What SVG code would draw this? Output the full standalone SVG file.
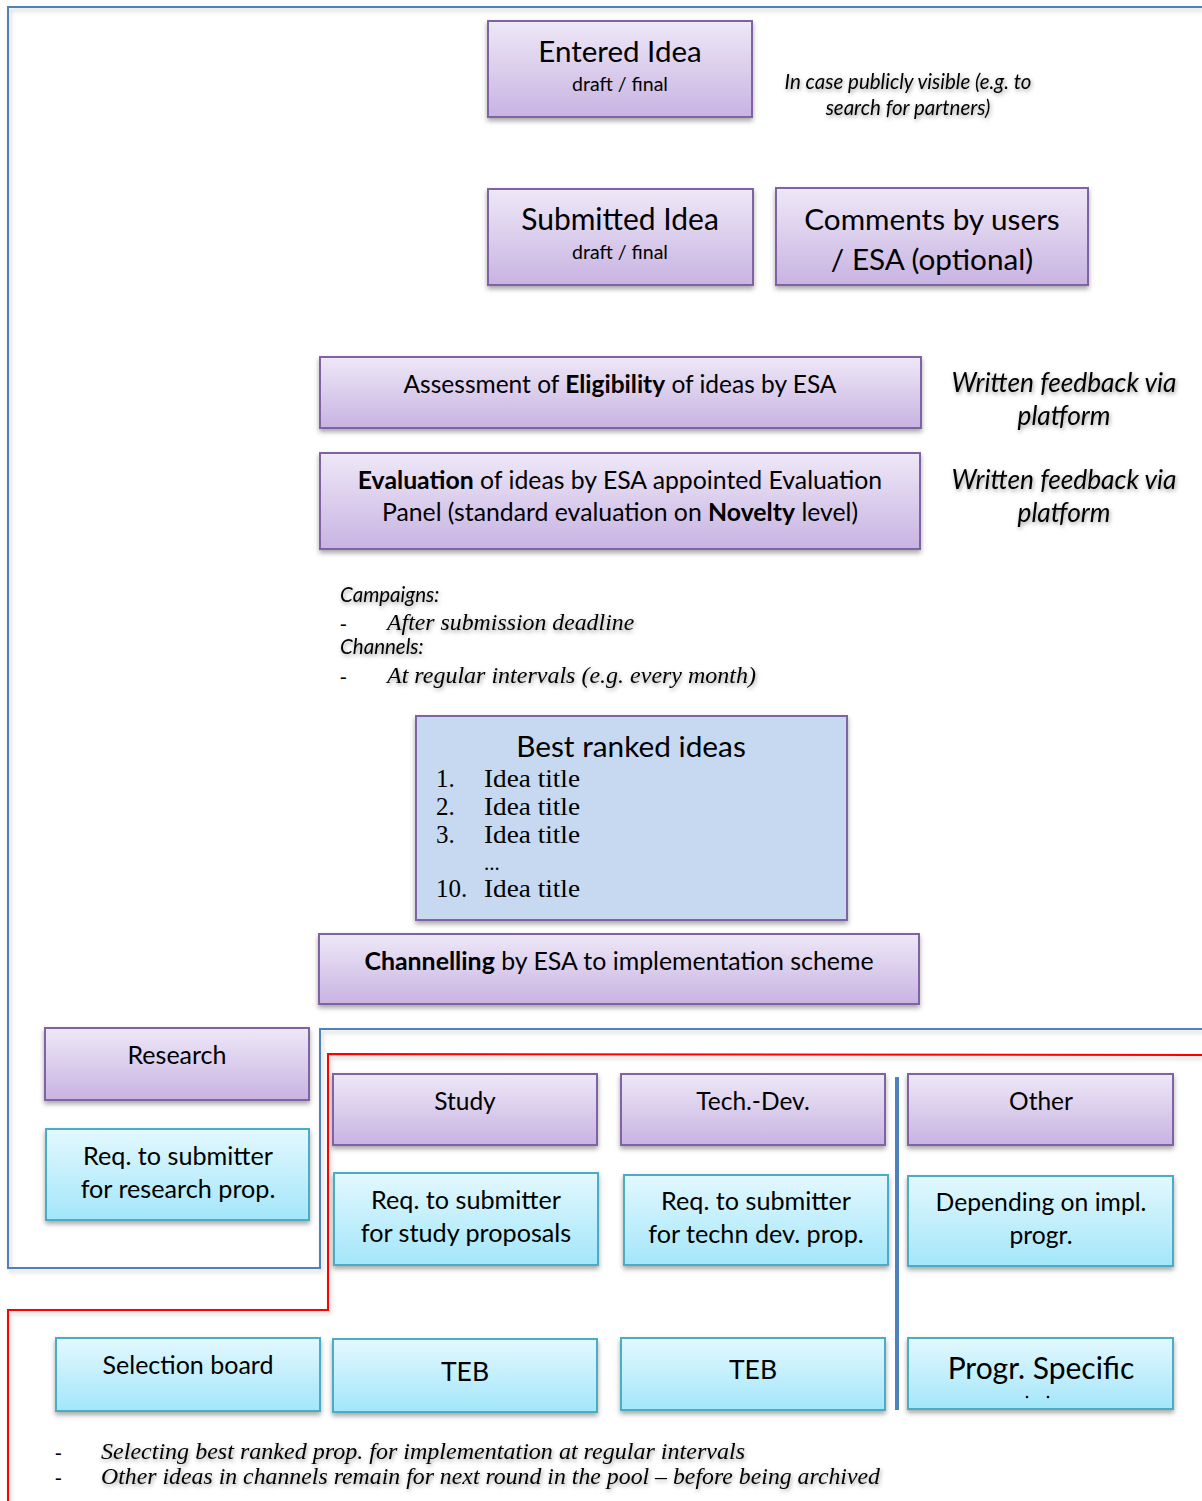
<svg xmlns="http://www.w3.org/2000/svg" width="1202" height="1501" viewBox="0 0 1202 1501">
<defs>
<linearGradient id="gP" x1="0" y1="0" x2="0" y2="1"><stop offset="0" stop-color="#EEE8F7"/><stop offset="1" stop-color="#C8B3E2"/></linearGradient>
<linearGradient id="gC" x1="0" y1="0" x2="0" y2="1"><stop offset="0" stop-color="#E3F8FE"/><stop offset="1" stop-color="#A3E6FA"/></linearGradient>
<filter id="sh" x="-5%" y="-10%" width="110%" height="130%"><feDropShadow dx="0" dy="3" stdDeviation="2.5" flood-color="#000" flood-opacity="0.35"/></filter>
<filter id="tsh" x="-5%" y="-30%" width="110%" height="160%"><feDropShadow dx="1" dy="2" stdDeviation="2" flood-color="#000" flood-opacity="0.4"/></filter>
<filter id="lsh" x="-2%" y="-2%" width="104%" height="104%"><feDropShadow dx="2" dy="3" stdDeviation="2" flood-color="#000" flood-opacity="0.2"/></filter>
<style>
.p{fill:url(#gP);stroke:#8064A2;stroke-width:2;filter:url(#sh)}
.c{fill:url(#gC);stroke:#4BACC6;stroke-width:2;filter:url(#sh)}
.b{fill:#C6D9F0;stroke:#8064A2;stroke-width:2;filter:url(#sh)}
text{font-family:Lato,"Open Sans","Liberation Sans",sans-serif;fill:#000}
.m{text-anchor:middle}
.it{font-style:italic;filter:url(#tsh)}
.sf{font-family:"Liberation Serif","DejaVu Serif",serif}
.bd{font-weight:bold}
</style>
</defs>
<g id="connectors" fill="none">
<polyline points="1202,7 8,7 8,1268 320,1268 320,1029 1202,1029" stroke="#4F81BD" stroke-width="2" filter="url(#lsh)"/>
<polyline points="8,1501 8,1310 328,1310 328,1054 1202,1055" stroke="#FF0000" stroke-width="2" filter="url(#lsh)"/>
<line x1="897" y1="1077" x2="897" y2="1410" stroke="#4F81BD" stroke-width="4"/>
</g>
<g id="entered"><rect class="p" x="488" y="21" width="264" height="96"/>
<text class="m" x="620" y="62" font-size="29.5">Entered Idea</text>
<text class="m" x="620" y="91" font-size="19.5">draft / final</text></g>
<g id="note-public"><text class="m it" font-size="20.5" x="908" y="89">In case publicly visible (e.g. to</text>
<text class="m it" font-size="20.5" x="908" y="115">search for partners)</text></g>
<g id="submitted"><rect class="p" x="488" y="189" width="265" height="96"/>
<text class="m" x="620" y="230" font-size="30">Submitted Idea</text>
<text class="m" x="620" y="259" font-size="19.5">draft / final</text></g>
<g id="comments"><rect class="p" x="776" y="188" width="312" height="97"/>
<text class="m" x="932" y="230" font-size="29.7">Comments by users</text>
<text class="m" x="932" y="270" font-size="29.7">/ ESA (optional)</text></g>
<g id="assessment"><rect class="p" x="320" y="357" width="601" height="71"/>
<text class="m" x="620" y="393" font-size="24.5">Assessment of <tspan class="bd">Eligibility</tspan> of ideas by ESA</text></g>
<g id="feedback1"><text class="m it" font-size="26.3" x="1064" y="392">Written feedback via</text>
<text class="m it" font-size="26.3" x="1064" y="425">platform</text></g>
<g id="evaluation"><rect class="p" x="320" y="453" width="600" height="96"/>
<text class="m" x="620" y="489" font-size="24.8"><tspan class="bd">Evaluation</tspan> of ideas by ESA appointed Evaluation</text>
<text class="m" x="620" y="521" font-size="24.8">Panel (standard evaluation on <tspan class="bd">Novelty</tspan> level)</text></g>
<g id="feedback2"><text class="m it" font-size="26.3" x="1064" y="489">Written feedback via</text>
<text class="m it" font-size="26.3" x="1064" y="522">platform</text></g>
<g id="timing">
<text class="it" font-size="20.5" x="340" y="602">Campaigns:</text>
<text class="sf" font-size="20" x="340" y="630">-</text>
<text class="it sf" font-size="23.8" x="387" y="630">After submission deadline</text>
<text class="it" font-size="20.5" x="340" y="654">Channels:</text>
<text class="sf" font-size="20" x="340" y="683">-</text>
<text class="it sf" font-size="24" x="387" y="683">At regular intervals (e.g. every month)</text></g>
<g id="best"><rect class="b" x="416" y="716" width="431" height="204"/>
<text class="m" x="631" y="757" font-size="29.8">Best ranked ideas</text>
<g class="sf" font-size="25">
<text class="sf" x="436" y="787">1.</text><text class="sf" x="484" y="787" textLength="96" lengthAdjust="spacingAndGlyphs">Idea title</text>
<text class="sf" x="436" y="815">2.</text><text class="sf" x="484" y="815" textLength="96" lengthAdjust="spacingAndGlyphs">Idea title</text>
<text class="sf" x="436" y="843">3.</text><text class="sf" x="484" y="843" textLength="96" lengthAdjust="spacingAndGlyphs">Idea title</text>
<text class="sf" x="484" y="870" font-size="21">...</text>
<text class="sf" x="436" y="897">10.</text><text class="sf" x="484" y="897" textLength="96" lengthAdjust="spacingAndGlyphs">Idea title</text></g></g>
<g id="channelling"><rect class="p" x="319" y="934" width="600" height="70"/>
<text class="m" x="619" y="970" font-size="24.9"><tspan class="bd">Channelling</tspan> by ESA to implementation scheme</text></g>
<g id="research"><rect class="p" x="45" y="1028" width="264" height="72"/>
<text class="m" x="177" y="1064" font-size="25">Research</text></g>
<g id="req-research"><rect class="c" x="46" y="1129" width="263" height="91"/>
<text class="m" x="178" y="1165" font-size="25.2">Req. to submitter</text>
<text class="m" x="178" y="1198" font-size="25.2">for research prop.</text></g>
<g id="study"><rect class="p" x="333" y="1074" width="264" height="71"/>
<text class="m" x="465" y="1110" font-size="24.5">Study</text></g>
<g id="techdev"><rect class="p" x="621" y="1074" width="264" height="71"/>
<text class="m" x="753" y="1110" font-size="24.5">Tech.-Dev.</text></g>
<g id="other"><rect class="p" x="908" y="1074" width="265" height="71"/>
<text class="m" x="1041" y="1110" font-size="24.5">Other</text></g>
<g id="req-study"><rect class="c" x="334" y="1173" width="264" height="92"/>
<text class="m" x="466" y="1209" font-size="25.2">Req. to submitter</text>
<text class="m" x="466" y="1242" font-size="25.2">for study proposals</text></g>
<g id="req-tech"><rect class="c" x="624" y="1175" width="264" height="90"/>
<text class="m" x="756" y="1210" font-size="25.2">Req. to submitter</text>
<text class="m" x="756" y="1243" font-size="25.2">for techn dev. prop.</text></g>
<g id="depending"><rect class="c" x="908" y="1176" width="265" height="90"/>
<text class="m" x="1041" y="1211" font-size="24.7">Depending on impl.</text>
<text class="m" x="1041" y="1244" font-size="24.7">progr.</text></g>
<g id="selection"><rect class="c" x="56" y="1338" width="264" height="73"/>
<text class="m" x="188" y="1374" font-size="25">Selection board</text></g>
<g id="teb1"><rect class="c" x="333" y="1339" width="264" height="73"/>
<text class="m" x="465" y="1381" font-size="26.5">TEB</text></g>
<g id="teb2"><rect class="c" x="621" y="1338" width="264" height="72"/>
<text class="m" x="753" y="1379" font-size="26.5">TEB</text></g>
<g id="progr"><rect class="c" x="908" y="1338" width="265" height="71"/>
<text class="m" x="1041" y="1379" font-size="30">Progr. Specific</text>
<circle cx="1027" cy="1397" r="1.3" fill="#000"/><circle cx="1048" cy="1397" r="1.3" fill="#000"/></g>
<g id="footnote">
<text class="sf" font-size="20" x="55" y="1459">-</text>
<text class="it sf" font-size="23" x="101" y="1459" textLength="644" lengthAdjust="spacingAndGlyphs">Selecting best ranked prop. for implementation at regular intervals</text>
<text class="sf" font-size="20" x="55" y="1484">-</text>
<text class="it sf" font-size="23" x="101" y="1484" textLength="779" lengthAdjust="spacingAndGlyphs">Other ideas in channels remain for next round in the pool – before being archived</text></g>
</svg>
